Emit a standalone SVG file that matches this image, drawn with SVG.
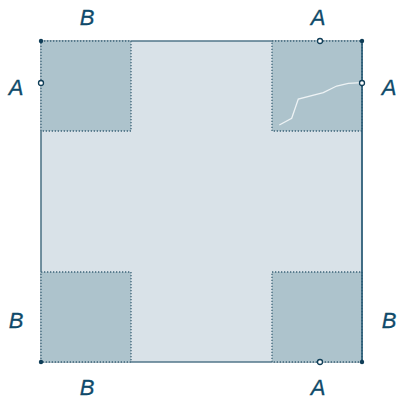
<svg xmlns="http://www.w3.org/2000/svg" width="399" height="399" viewBox="0 0 399 399">
<style>
.lbl{font-family:"Liberation Sans",Arial,sans-serif;font-style:italic;font-size:22px;fill:#0f4a6a;stroke:#0f4a6a;stroke-width:0.3;text-anchor:middle;dominant-baseline:central}
.corner{fill:#adc3cc;stroke:#3d6478;stroke-width:1.3;stroke-dasharray:1.3 1.7}
.dot{fill:#0f3d57}
.open{fill:#fff;stroke:#0f3d57;stroke-width:1.3}
</style>
<rect width="399" height="399" fill="#fff"/>
<g id="square">
<rect x="41" y="41" width="321" height="321" fill="#d9e2e8" stroke="#5a7d8e" stroke-width="1"/>
</g>
<g id="corners">
<rect class="corner" x="41" y="41" width="90" height="90"/>
<rect class="corner" x="272" y="41" width="90" height="90"/>
<rect class="corner" x="41" y="272" width="90" height="90"/>
<rect class="corner" x="272" y="272" width="90" height="90"/>
</g>
<g id="connectors">
<line x1="362" y1="41" x2="362" y2="362" stroke="#1f5470" stroke-width="1.5"/>
<line x1="131" y1="41" x2="272" y2="41" stroke="#4f7588" stroke-width="1.2"/>
<line x1="41" y1="131" x2="41" y2="272" stroke="#4f7588" stroke-width="1.2"/>
<line x1="131" y1="362" x2="272" y2="362" stroke="#4f7588" stroke-width="1.2"/>
<polyline points="279.3,125 291.7,118.3 298.3,99 323.3,92.7 336.7,86 348.3,83.3 361.7,82.7" fill="none" stroke="#eef3f5" stroke-width="1.3"/>
</g>
<g id="points">
<circle class="dot" cx="41" cy="41" r="2.2"/>
<circle class="dot" cx="362" cy="41" r="2.2"/>
<circle class="dot" cx="41" cy="362" r="2.2"/>
<circle class="dot" cx="362" cy="362" r="2.2"/>
<circle class="open" cx="320" cy="41" r="2.5"/>
<circle class="open" cx="41" cy="83" r="2.5"/>
<circle class="open" cx="362" cy="83" r="2.5"/>
<circle class="open" cx="320" cy="362" r="2.5"/>
</g>
<g id="labels">
<text class="lbl" x="87" y="17">B</text>
<text class="lbl" x="318" y="17">A</text>
<text class="lbl" x="16" y="87">A</text>
<text class="lbl" x="389" y="87">A</text>
<text class="lbl" x="16" y="320">B</text>
<text class="lbl" x="389" y="320">B</text>
<text class="lbl" x="87" y="387">B</text>
<text class="lbl" x="318" y="387">A</text>
</g>
</svg>
